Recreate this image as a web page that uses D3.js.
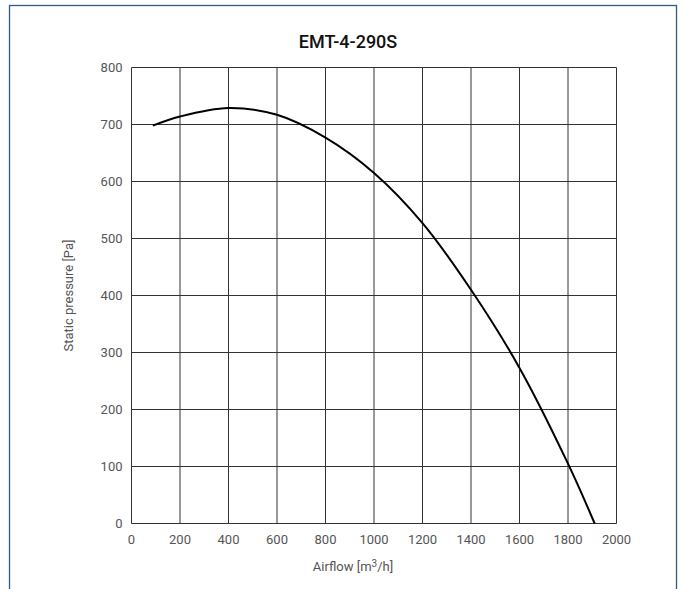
<!DOCTYPE html>
<html><head><meta charset="utf-8">
<script src="https://cdn.jsdelivr.net/npm/d3@7"></script>
<style>body{margin:0;background:#fff}svg{display:block}</style>
</head><body>
<svg id="c" width="683" height="589"></svg>
<script>
const title = "EMT-4-290S";
const airflow = [88, 200, 400, 600, 800, 1000, 1200, 1400, 1600, 1800, 1910];
const pressure = [698, 714, 729, 717, 677, 615, 527, 410, 273, 105, 0];
const xTicks = [0, 200, 400, 600, 800, 1000, 1200, 1400, 1600, 1800, 2000];
const yTicks = [0, 100, 200, 300, 400, 500, 600, 700, 800];

const svg = d3.select("#c");
const font = "Roboto, 'DejaVu Sans', sans-serif";
svg.append("rect").attr("x", 9.5).attr("y", 5.5).attr("width", 667).attr("height", 600)
  .attr("fill", "none").attr("stroke", "#2d5b8c").attr("stroke-width", 1.3);

const L = 131.5, R = 616.5, T = 67.5, B = 523.5;
const x = d3.scaleLinear().domain([0, 2000]).range([L, R]);
const y = d3.scaleLinear().domain([0, 800]).range([B, T]);

svg.append("text").attr("x", 348).attr("y", 48).attr("text-anchor", "middle")
  .attr("font-family", font).attr("font-weight", 500).attr("font-size", 18).attr("fill", "#111").text(title);

const g = svg.append("g");
g.selectAll(".vx").data(xTicks).enter().append("line")
  .attr("x1", d => x(d)).attr("x2", d => x(d)).attr("y1", T).attr("y2", B)
  .attr("stroke", "#333").attr("stroke-width", 1);
g.selectAll(".hy").data(yTicks).enter().append("line")
  .attr("x1", L).attr("x2", R).attr("y1", d => y(d)).attr("y2", d => y(d))
  .attr("stroke", "#333").attr("stroke-width", 1);

g.selectAll(".xt").data(xTicks).enter().append("text")
  .attr("x", d => x(d)).attr("y", B + 20).attr("text-anchor", "middle")
  .attr("font-family", font).attr("font-size", 13).attr("fill", "#555").text(d => d);
g.selectAll(".yt").data(yTicks).enter().append("text")
  .attr("x", L - 9).attr("y", d => y(d) + 4.5).attr("text-anchor", "end")
  .attr("font-family", font).attr("font-size", 13).attr("fill", "#555").text(d => d);

const xl = svg.append("text").attr("x", 353).attr("y", 571).attr("text-anchor", "middle")
  .attr("font-family", font).attr("font-size", 13).attr("fill", "#555");
xl.append("tspan").text("Airflow [m");
xl.append("tspan").attr("dy", -4).attr("font-size", 10).text("3");
xl.append("tspan").attr("dy", 4).text("/h]");

svg.append("text").attr("transform", `translate(73,${(T + B) / 2}) rotate(-90)`).attr("text-anchor", "middle")
  .attr("font-family", font).attr("font-size", 13).attr("fill", "#555").text("Static pressure [Pa]");

const pts = airflow.map((a, i) => [a, pressure[i]]);
svg.append("path").datum(pts)
  .attr("d", d3.line().x(d => x(d[0])).y(d => y(d[1])).curve(d3.curveCatmullRom))
  .attr("fill", "none").attr("stroke", "#000").attr("stroke-width", 2);
</script>
</body></html>
